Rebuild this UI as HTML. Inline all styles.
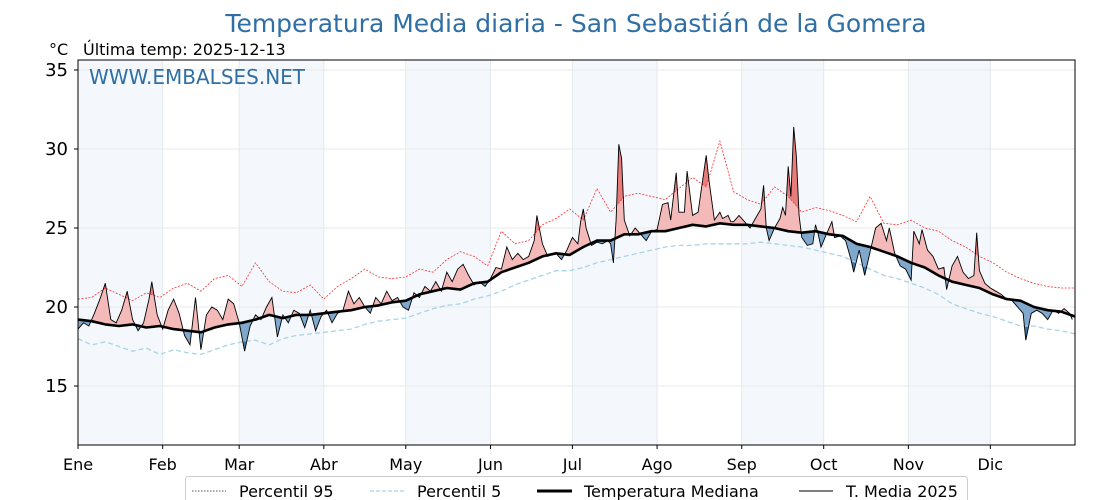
<!DOCTYPE html>
<html><head><meta charset="utf-8">
<style>
body{margin:0;background:#fff;}
svg{display:block;font-family:"DejaVu Sans","Liberation Sans",sans-serif;}
</style></head>
<body>
<svg id="chart" width="1120" height="500" viewBox="0 0 1120 500">
<text x="576" y="32" text-anchor="middle" font-size="25" fill="#2f6fa6">Temperatura Media diaria - San Sebastián de la Gomera</text>
<text x="49" y="55" font-size="16" fill="#000">°C</text>
<text x="83" y="55" font-size="16" fill="#000">Última temp: 2025-12-13</text>
<g id="bands"></g>
<g id="grid"></g>
<g id="fills"></g>
<g id="lines"></g>
<text x="89" y="84" font-size="20" fill="#2f6fa6">WWW.EMBALSES.NET</text>
<rect x="78" y="60" width="997" height="385" fill="none" stroke="#000" stroke-width="1"/>
<g id="axes"></g>
<g id="legend">
<rect x="185.5" y="476.5" width="782" height="30" rx="3" fill="#fff" stroke="#ccc"/>
<line x1="192" y1="491" x2="226" y2="491" stroke="#555" stroke-width="1" stroke-dasharray="1.5,1.5"/>
<text x="239" y="497" font-size="16">Percentil 95</text>
<line x1="370" y1="491" x2="404" y2="491" stroke="#a8d4e6" stroke-width="1.2" stroke-dasharray="4,2"/>
<text x="417" y="497" font-size="16">Percentil 5</text>
<line x1="537" y1="491" x2="572" y2="491" stroke="#000" stroke-width="3"/>
<text x="584" y="497" font-size="16">Temperatura Mediana</text>
<line x1="799" y1="491" x2="833" y2="491" stroke="#000" stroke-width="1"/>
<text x="846" y="497" font-size="16">T. Media 2025</text>
</g>
</svg>
<script>
const monthLabels=["Ene","Feb","Mar","Abr","May","Jun","Jul","Ago","Sep","Oct","Nov","Dic"];
const monthStarts=[0,31,59,90,120,151,181,212,243,273,304,334];
const yTicks=[15,20,25,30,35];
const refDays=[0,5,10,15,20,25,30,35,40,45,50,55,60,65,70,75,80,85,90,95,100,105,110,115,120,125,130,135,140,145,150,155,160,165,170,175,180,185,190,195,200,205,210,215,220,225,230,235,240,245,250,255,260,265,270,275,280,285,290,295,300,305,310,315,320,325,330,335,340,345,350,355,360,365];
const median=[19.2,19.1,18.9,18.8,18.9,18.7,18.8,18.6,18.5,18.4,18.7,18.9,19.0,19.2,19.5,19.3,19.5,19.5,19.6,19.7,19.8,20.0,20.1,20.3,20.4,20.8,21.0,21.2,21.1,21.5,21.6,22.2,22.5,22.8,23.2,23.4,23.3,23.8,24.2,24.2,24.6,24.6,24.8,24.8,25.0,25.2,25.1,25.3,25.2,25.2,25.1,25.0,24.8,24.7,24.8,24.6,24.5,24.0,23.8,23.5,23.2,22.8,22.5,22.0,21.6,21.4,21.2,20.8,20.5,20.4,20.0,19.8,19.7,19.4];
const p95=[20.5,20.6,21.2,20.8,20.4,20.9,20.6,21.2,21.5,21.0,21.8,22.0,21.3,22.8,21.6,21.0,20.9,21.4,20.5,21.3,21.8,22.4,21.9,21.8,21.9,22.4,22.2,23.0,23.5,23.2,22.6,24.8,24.0,24.2,25.2,25.6,26.2,25.5,27.5,26.0,27.0,27.2,27.0,26.8,27.5,28.2,27.6,30.5,27.3,26.8,26.5,27.6,27.0,26.0,26.3,26.1,25.8,25.4,27.0,25.3,25.2,25.5,25.0,24.8,24.2,23.8,23.2,22.8,22.2,21.8,21.5,21.3,21.2,21.2];
const p5=[18.0,17.6,17.8,17.5,17.2,17.4,17.0,17.3,17.1,17.0,17.3,17.6,17.8,17.9,17.6,18.0,18.2,18.3,18.4,18.5,18.6,18.9,19.1,19.2,19.3,19.6,19.9,20.1,20.2,20.5,20.7,21.0,21.4,21.7,22.0,22.3,22.3,22.5,22.8,23.0,23.2,23.4,23.6,23.8,23.9,23.9,24.0,24.0,24.0,24.0,24.1,24.0,23.9,23.8,23.6,23.4,23.2,22.8,22.4,22.0,21.8,21.5,21.2,20.8,20.2,19.9,19.6,19.4,19.1,18.8,18.8,18.6,18.5,18.3];
const t2025Days=[0,2,4,6,8,10,12,14,16,18,20,22,24,26,27,29,31,33,35,37,39,41,43,45,47,49,51,53,55,57,59,61,63,65,67,69,71,73,75,77,79,81,83,85,87,89,91,93,95,97,99,101,103,105,107,109,111,113,115,117,119,121,123,125,127,129,131,133,135,137,139,141,143,145,147,149,151,153,155,157,159,161,163,165,167,168,170,172,174,175,177,179,181,183,184,185,186,188,190,192,194,195,196,197,198,199,200,202,204,206,208,210,212,214,216,217,219,220,222,223,225,227,229,230,231,233,235,236,238,239,240,242,244,246,248,250,251,252,253,255,257,258,259,260,261,262,263,264,265,267,269,270,271,272,274,276,277,279,281,283,284,286,288,290,292,294,296,297,299,301,303,305,306,308,309,311,313,315,317,318,320,322,324,326,328,329,330,332,334,336,338,340,342,344,346,347,349,351,353,355,357,359,361,363,364];
const t2025=[18.6,19.0,18.8,19.6,20.5,21.5,19.2,19.0,19.8,21.0,19.2,18.5,19.0,20.5,21.6,19.5,18.6,19.8,20.5,19.6,18.2,17.6,20.6,17.3,19.5,20.0,19.8,19.2,20.5,20.2,19.0,17.2,18.8,19.5,19.2,20.0,20.6,18.1,19.5,19.0,19.8,19.6,18.7,19.8,18.5,19.4,19.8,19.0,19.6,19.8,21.0,20.2,20.6,20.0,19.6,20.6,20.2,21.0,20.4,20.6,20.0,19.8,20.9,20.6,21.3,21.0,21.6,21.0,22.2,21.6,22.4,22.7,22.0,21.4,21.6,21.3,21.8,22.5,22.4,23.8,23.0,23.4,23.0,23.2,24.2,25.8,24.0,23.2,23.4,23.4,23.0,23.6,24.4,24.0,25.4,26.2,25.0,23.9,24.1,24.0,24.2,24.0,22.8,25.5,30.3,29.4,25.5,24.5,25.0,24.6,24.2,24.8,24.9,26.5,26.6,25.5,28.5,26.0,26.0,28.6,25.8,26.0,28.4,29.6,28.0,25.5,26.0,25.6,25.8,25.4,25.4,25.8,25.4,25.0,25.6,26.2,27.7,25.0,24.2,25.0,25.6,26.3,25.8,28.9,27.0,31.4,29.5,25.8,24.4,23.9,24.0,25.2,24.6,23.8,24.6,25.4,24.4,24.5,24.2,23.0,22.2,23.6,22.0,23.5,25.0,25.3,24.2,25.0,23.4,22.6,22.4,21.7,24.8,24.0,24.9,23.6,23.2,22.4,22.5,21.1,22.6,23.2,22.2,21.8,22.0,24.7,22.3,21.5,21.2,21.0,20.8,20.5,20.4,20.0,19.6,17.9,19.6,19.8,19.6,19.2,19.8,19.6,19.9,19.6,19.2];

const NS="http://www.w3.org/2000/svg";
const X0=78,X1=1075,Y0=60,Y1=445;
const DAY_W=(X1-X0)/365;
const xs=d=>X0+d*DAY_W;
const ys=v=>386-(v-15)*15.8;
function mk(tag,attrs,parent){const e=document.createElementNS(NS,tag);for(const k in attrs)e.setAttribute(k,attrs[k]);parent.appendChild(e);return e;}
function interp(days,vals,d){if(d<=days[0])return vals[0];for(let i=1;i<days.length;i++){if(d<=days[i]){const t=(d-days[i-1])/(days[i]-days[i-1]);return vals[i-1]+t*(vals[i]-vals[i-1]);}}return vals[vals.length-1];}
function pts(days,vals){return days.map((d,i)=>xs(d).toFixed(1)+","+ys(vals[i]).toFixed(1)).join(" ");}

const bands=document.getElementById('bands'),grid=document.getElementById('grid'),fills=document.getElementById('fills'),lines=document.getElementById('lines'),axes=document.getElementById('axes');
for(let m=0;m<12;m+=2){
  const r=mk('rect',{x:xs(monthStarts[m]),y:Y0,width:xs(monthStarts[m+1])-xs(monthStarts[m]),height:Y1-Y0,fill:'#f4f8fc'},bands);
  
  
}
monthStarts.forEach((d,i)=>{
  const l=mk('line',{x1:xs(d),x2:xs(d),y1:Y0,y2:Y1,stroke:'#e3e8ee','stroke-width':1},grid);
  
  
  const t=mk('text',{x:xs(d),y:470,'text-anchor':'middle','font-size':16},axes);
  t.textContent=monthLabels[i];
  
  
  const tk=mk('line',{x1:xs(d),x2:xs(d),y1:Y1,y2:Y1+4,stroke:'#000'},axes);
  
  
});
yTicks.forEach(v=>{
  const l=mk('line',{x1:X0,x2:X1,y1:ys(v),y2:ys(v),stroke:'#e8e8e8','stroke-width':1},grid);
  
  
  const t=mk('text',{x:68,y:ys(v)+6,'text-anchor':'end','font-size':18},axes);
  t.textContent=v;
  
  
  const tk=mk('line',{x1:X0-4,x2:X0,y1:ys(v),y2:ys(v),stroke:'#000'},axes);
  
  
});

const daily=[];for(let d=0;d<=365;d++)daily.push(d);
const medD=daily.map(d=>interp(refDays,median,d));
const p95D=daily.map(d=>interp(refDays,p95,d));
const p5D=daily.map(d=>interp(refDays,p5,d));
const allDays=Array.from(new Set(daily.concat(t2025Days))).sort((a,b)=>a-b).filter(d=>d<=t2025Days[t2025Days.length-1]);
const tA=allDays.map(d=>interp(t2025Days,t2025,d));
const mA=allDays.map(d=>interp(refDays,median,d));
const defs=mk('defs',{},fills);
function clipFrom(id,days,vals,above){
  const cp=mk('clipPath',{id:id},defs);
  const yEdge=above?Y0-10:Y1+10;
  const p=days.map((d,i)=>xs(d)+","+ys(vals[i])).join(" ")+` ${xs(365)},${yEdge} ${xs(0)},${yEdge}`;
  mk('polygon',{points:p},cp);
}
clipFrom('aboveMed',daily,medD,true);
clipFrom('belowMed',daily,medD,false);
clipFrom('aboveP95',daily,p95D,true);
clipFrom('belowP5',daily,p5D,false);
const bandPts=allDays.map((d,i)=>xs(d).toFixed(1)+","+ys(tA[i]).toFixed(1)).concat(allDays.slice().reverse().map((d,j)=>{const i=allDays.length-1-j;return xs(d).toFixed(1)+","+ys(mA[i]).toFixed(1);})).join(" ");
let f=mk('polygon',{points:bandPts,fill:'#f4b9b9','clip-path':'url(#aboveMed)'},fills);


f=mk('polygon',{points:bandPts,fill:'#80a8cc','clip-path':'url(#belowMed)'},fills);


const g1=mk('g',{'clip-path':'url(#aboveP95)'},fills);
f=mk('polygon',{points:bandPts,fill:'#ea7b7b','clip-path':'url(#aboveMed)'},g1);


const g2=mk('g',{'clip-path':'url(#belowP5)'},fills);
f=mk('polygon',{points:bandPts,fill:'#3f76a8','clip-path':'url(#belowMed)'},g2);



let ln=mk('polyline',{points:pts(refDays,p95),fill:'none',stroke:'#ff2a2a','stroke-width':0.8,'stroke-dasharray':'2,1.5'},lines);


ln=mk('polyline',{points:pts(refDays,p5),fill:'none',stroke:'#a8d4e6','stroke-width':1.3,'stroke-dasharray':'5,3'},lines);


ln=mk('polyline',{points:pts(refDays,median),fill:'none',stroke:'#000','stroke-width':2.6,'stroke-linejoin':'round'},lines);


ln=mk('polyline',{points:pts(t2025Days,t2025),fill:'none',stroke:'#000','stroke-width':0.9},lines);


</script>
</body></html>
